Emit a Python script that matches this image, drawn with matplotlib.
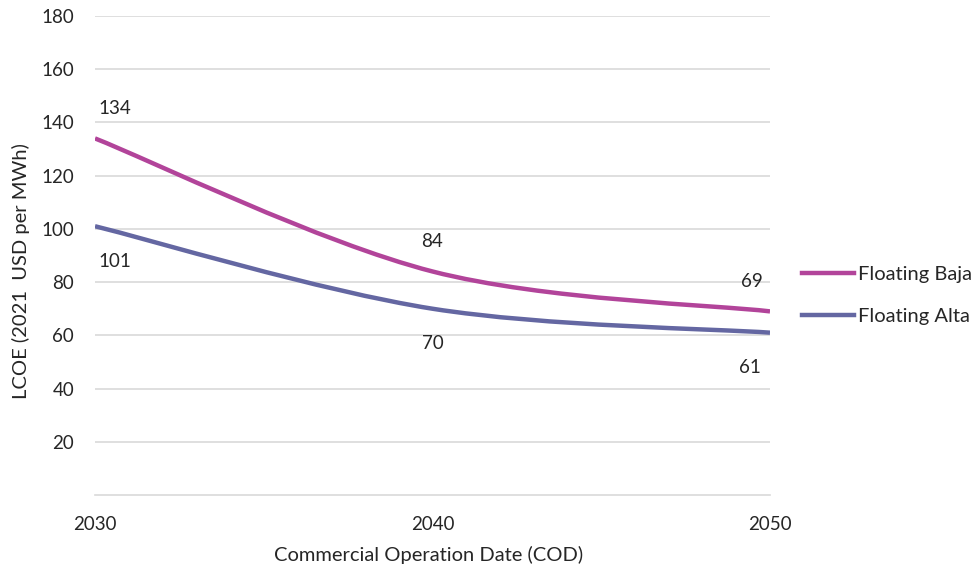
import matplotlib
matplotlib.use("Agg")
import matplotlib.pyplot as plt
from matplotlib.path import Path
from matplotlib.patches import PathPatch
from matplotlib.lines import Line2D

years = [2030, 2040, 2050]
baja = [134, 84, 69]
alta = [101, 70, 61]
series_names = ["Floating Baja", "Floating Alta"]
y_ticks = [20, 40, 60, 80, 100, 120, 140, 160, 180]

plt.rcParams["font.family"] = ["Lato", "DejaVu Sans"]
TXT = "#262626"
GRID = "#D9D9D9"
COLORS = ["#B2449A", "#6467A2"]


def smooth_path(xs, ys):
    # Excel-style smoothed line: cubic Bezier through the points
    pts = list(zip(xs, ys))
    verts = [pts[0]]
    codes = [Path.MOVETO]
    n = len(pts)
    for i in range(n - 1):
        p0 = pts[max(i - 1, 0)]
        p1 = pts[i]
        p2 = pts[i + 1]
        p3 = pts[min(i + 2, n - 1)]
        c1 = (p1[0] + (p2[0] - p0[0]) / 6, p1[1] + (p2[1] - p0[1]) / 6)
        c2 = (p2[0] - (p3[0] - p1[0]) / 6, p2[1] - (p3[1] - p1[1]) / 6)
        verts += [c1, c2, p2]
        codes += [Path.CURVE4] * 3
    return Path(verts, codes)


fig = plt.figure(figsize=(9.71, 5.73), dpi=100)
ax = fig.add_axes([95 / 971, 1 - 495 / 573, 675 / 971, 479 / 573])

for vals, col in zip([baja, alta], COLORS):
    ax.add_patch(PathPatch(smooth_path(years, vals), facecolor="none",
                           edgecolor=col, lw=3.2, capstyle="butt", zorder=3))

# data labels
above_dx = [20, 0, -18]
for x, v, dx in zip(years, baja, above_dx):
    ax.annotate(str(v), (x, v), xytext=(dx, 30), textcoords="offset pixels",
                ha="center", va="center", fontsize=13.5, color=TXT)
below_dx = [20, 0, -20]
for x, v, dx in zip(years, alta, below_dx):
    ax.annotate(str(v), (x, v), xytext=(dx, -35), textcoords="offset pixels",
                ha="center", va="center", fontsize=13.5, color=TXT)

ax.set_xlim(2030, 2050)
ax.set_ylim(0, 180)
ax.set_xticks(years)
ax.set_yticks(y_ticks)
ax.grid(axis="y", color=GRID, lw=1.2)
ax.set_axisbelow(True)
for s in ["top", "right", "left"]:
    ax.spines[s].set_visible(False)
ax.spines["bottom"].set_color(GRID)
ax.spines["bottom"].set_linewidth(1.2)
ax.tick_params(length=0, labelsize=13.5, labelcolor=TXT)
ax.tick_params(axis="x", pad=15)
ax.tick_params(axis="y", pad=15)

ax.set_xlabel("Commercial Operation Date (COD)", fontsize=14.5, color=TXT, va="center")
ax.xaxis.set_label_coords(333.5 / 675, -60 / 479)
ax.set_ylabel("LCOE (2021  USD per MWh)", fontsize=14.5, color=TXT, va="center")
ax.yaxis.set_label_coords(-74 / 675, 224 / 479)

handles = [Line2D([], [], color=c, lw=3.2) for c in COLORS]
ax.legend(handles, series_names, loc="center left", bbox_to_anchor=(1.023, 0.4165),
          frameon=False, fontsize=14.5, handlelength=2.6, handletextpad=0.2,
          labelspacing=1.25, labelcolor=TXT, borderaxespad=0.4)

fig.savefig("out.png", dpi=100)
